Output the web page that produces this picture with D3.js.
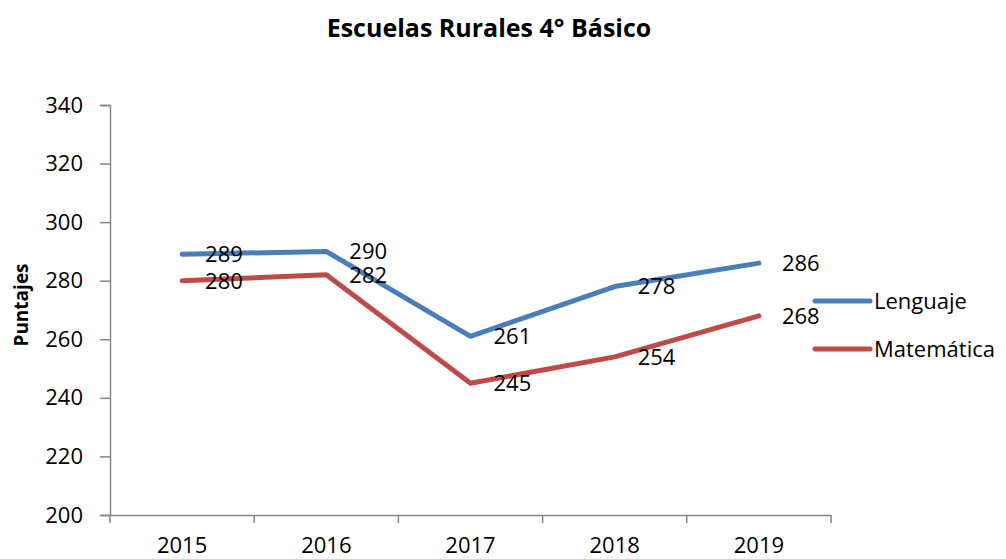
<!DOCTYPE html>
<html>
<head>
<meta charset="utf-8">
<script src="https://cdn.jsdelivr.net/npm/d3@7"></script>
<style>
  html, body { margin: 0; padding: 0; background: #fff; }
  svg { display: block; font-family: "Open Sans", sans-serif; }
</style>
</head>
<body>
<svg id="chart" width="1006" height="559"></svg>
<script>
const categories = ["2015", "2016", "2017", "2018", "2019"];
const lenguaje = [289, 290, 261, 278, 286];
const matematica = [280, 282, 245, 254, 268];
const seriesNames = ["Lenguaje", "Matemática"];
const seriesColors = ["#4A7EBB", "#BE4B48"];
const yTicks = [200, 220, 240, 260, 280, 300, 320, 340];
const titleText = "Escuelas Rurales 4° Básico";
const yTitle = "Puntajes";

(function () {
const svg = d3.select("#chart");
const mLeft = 110, mRight = 831, mTop = 105, mBottom = 515;

const x = d3.scaleBand().domain(categories).range([mLeft, mRight]).padding(0);
const y = d3.scaleLinear().domain([200, 340]).range([mBottom, mTop]);

// Title
svg.append("text")
  .attr("x", 489).attr("y", 37)
  .attr("text-anchor", "middle")
  .attr("font-weight", "bold")
  .attr("font-size", 25)
  .attr("fill", "#000")
  .text(titleText);

// Y axis
const yAxis = d3.axisLeft(y).tickValues(yTicks).tickSize(10).tickPadding(17);
const gy = svg.append("g").attr("transform", `translate(${mLeft},0)`).call(yAxis);
gy.select(".domain").attr("stroke", "#868686").attr("stroke-width", 1.5);
gy.selectAll(".tick line").attr("stroke", "#868686").attr("stroke-width", 1.5);
gy.selectAll(".tick text").attr("font-size", 22).attr("fill", "#000")
  .attr("font-family", "Open Sans, sans-serif");

// X axis
const xAxis = d3.axisBottom(x).tickSize(0).tickPadding(22);
const gx = svg.append("g").attr("transform", `translate(0,${mBottom})`).call(xAxis);
gx.select(".domain").attr("stroke", "#868686").attr("stroke-width", 1.5);
gx.selectAll(".tick text").attr("font-size", 22).attr("fill", "#000")
  .attr("font-family", "Open Sans, sans-serif");
const boundaries = categories.map(c => x(c)).concat([x(categories[categories.length - 1]) + x.bandwidth()]);
gx.selectAll(".bound").data(boundaries).enter().append("line")
  .attr("x1", d => d).attr("x2", d => d)
  .attr("y1", 0).attr("y2", 8)
  .attr("stroke", "#868686").attr("stroke-width", 1.5);

// Y title
svg.append("text")
  .attr("transform", `translate(28,305) rotate(-90)`)
  .attr("text-anchor", "middle")
  .attr("font-weight", "bold")
  .attr("font-size", 19)
  .attr("fill", "#000")
  .text(yTitle);

const cx = c => x(c) + x.bandwidth() / 2;
const line = d3.line().x((d, i) => cx(categories[i])).y(d => y(d));

const allSeries = [lenguaje, matematica];
allSeries.forEach((s, k) => {
  svg.append("path")
    .datum(s)
    .attr("d", line)
    .attr("fill", "none")
    .attr("stroke", seriesColors[k])
    .attr("stroke-width", 5)
    .attr("stroke-linejoin", "round")
    .attr("stroke-linecap", "round");
});

allSeries.forEach((s, k) => {
  svg.selectAll(null).data(s).enter().append("text")
    .attr("x", (d, i) => cx(categories[i]) + 23)
    .attr("y", d => y(d))
    .attr("dy", "0.36em")
    .attr("font-size", 22)
    .attr("fill", "#000")
    .text(d => d);
});

// Legend
const legendY = [301, 349];
seriesNames.forEach((n, k) => {
  svg.append("line")
    .attr("x1", 815).attr("x2", 870)
    .attr("y1", legendY[k]).attr("y2", legendY[k])
    .attr("stroke", seriesColors[k]).attr("stroke-width", 5)
    .attr("stroke-linecap", "round");
  svg.append("text")
    .attr("x", 874).attr("y", legendY[k])
    .attr("dy", "0.36em")
    .attr("font-size", 22)
    .attr("fill", "#000")
    .text(n);
});
})();
</script>
</body>
</html>
